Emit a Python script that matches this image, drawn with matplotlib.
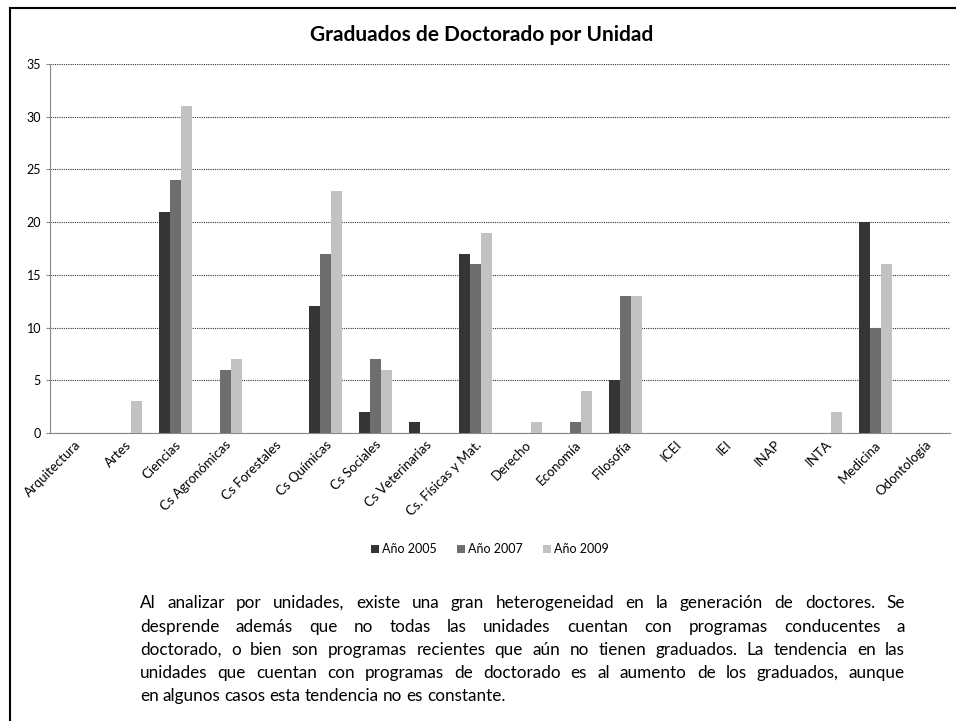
import matplotlib
matplotlib.use('Agg')
import matplotlib.pyplot as plt
import numpy as np
from matplotlib.lines import Line2D

plt.rcParams['font.family'] = ['Lato', 'DejaVu Sans']

# Datos
unidades = ['Arquitectura', 'Artes', 'Ciencias', 'Cs Agronómicas', 'Cs Forestales',
            'Cs Químicas', 'Cs Sociales', 'Cs Veterinarias', 'Cs. Físicas y Mat.',
            'Derecho', 'Economía', 'Filosofía', 'ICEI', 'IEI', 'INAP', 'INTA',
            'Medicina', 'Odontología']
anio_2005 = [0, 0, 21, 0, 0, 12, 2, 1, 17, 0, 0, 5, 0, 0, 0, 0, 20, 0]
anio_2007 = [0, 0, 24, 6, 0, 17, 7, 0, 16, 0, 1, 13, 0, 0, 0, 0, 10, 0]
anio_2009 = [0, 3, 31, 7, 0, 23, 6, 0, 19, 1, 4, 13, 0, 0, 0, 2, 16, 0]
series = ['Año 2005', 'Año 2007', 'Año 2009']
colores = ['#353535', '#6e6e6e', '#c2c2c2']

parrafo = [
    'Al analizar por unidades, existe una gran heterogeneidad en la generación de doctores. Se',
    'desprende además que no todas las unidades cuentan con programas conducentes a',
    'doctorado, o bien son programas recientes que aún no tienen graduados. La tendencia en las',
    'unidades que cuentan con programas de doctorado es al aumento de los graduados, aunque',
    'en algunos casos esta tendencia no es constante.',
]

W, H = 956, 721
fig = plt.figure(figsize=(W / 100, H / 100), dpi=100)
ax = fig.add_axes([50 / W, 1 - 433 / H, 900 / W, (433 - 64) / H])

x = np.arange(len(unidades))
ancho = 0.22
for i, (vals, nombre, c) in enumerate(zip([anio_2005, anio_2007, anio_2009], series, colores)):
    ax.bar(x + (i - 1) * ancho, vals, ancho, color=c, label=nombre, zorder=3)

ax.set_xlim(-0.5, len(unidades) - 0.5)
ax.set_ylim(0, 35)
ax.set_yticks(range(0, 36, 5))
ax.set_xticks(x)
ax.set_xticklabels(unidades, rotation=45, ha='right', rotation_mode='anchor', fontsize=9.5)
ax.tick_params(axis='y', labelsize=9, length=3, color='#888888')
ax.tick_params(axis='x', length=0, pad=4)
ax.yaxis.grid(True, linestyle=(0, (1, 1)), color='#333333', linewidth=0.8, zorder=0)

for lado in ['top', 'right']:
    ax.spines[lado].set_visible(False)
for lado in ['left', 'bottom']:
    ax.spines[lado].set_linestyle((0, (1, 1)))
    ax.spines[lado].set_color('#888888')
    ax.spines[lado].set_linewidth(0.8)

fig.text(482 / W, 1 - 35 / H, 'Graduados de Doctorado por Unidad', ha='center', va='center',
         fontsize=15, fontweight='bold')

fig.legend(loc='center', bbox_to_anchor=(490 / W, 1 - 549 / H), ncol=3, frameon=False,
           fontsize=9, handlelength=0.6, handleheight=0.6, handletextpad=0.3,
           columnspacing=1.6)

# Marco exterior
fig.add_artist(Line2D([10 / W, 10 / W], [0, 1 - 8 / H], color='black', linewidth=1.5))
fig.add_artist(Line2D([10 / W, 1], [1 - 8 / H, 1 - 8 / H], color='black', linewidth=1.5))

# Párrafo justificado (la última línea queda alineada a la izquierda)
fig.canvas.draw()
renderer = fig.canvas.get_renderer()
x0, x1 = 140, 905
y_lineas = [603, 627, 650, 673, 696]
tam = 12.3
for n, (linea, yl) in enumerate(zip(parrafo, y_lineas)):
    palabras = linea.split()
    textos = [fig.text(0, 1 - yl / H, p, fontsize=tam, va='center', ha='left') for p in palabras]
    anchos = [t.get_window_extent(renderer).width for t in textos]
    if n < len(parrafo) - 1:
        hueco = (x1 - x0 - sum(anchos)) / (len(palabras) - 1)
    else:
        hueco = tam * 0.33
    pos = x0
    for t, a in zip(textos, anchos):
        t.set_x(pos / W)
        pos += a + hueco

fig.savefig('out.png', dpi=100)
